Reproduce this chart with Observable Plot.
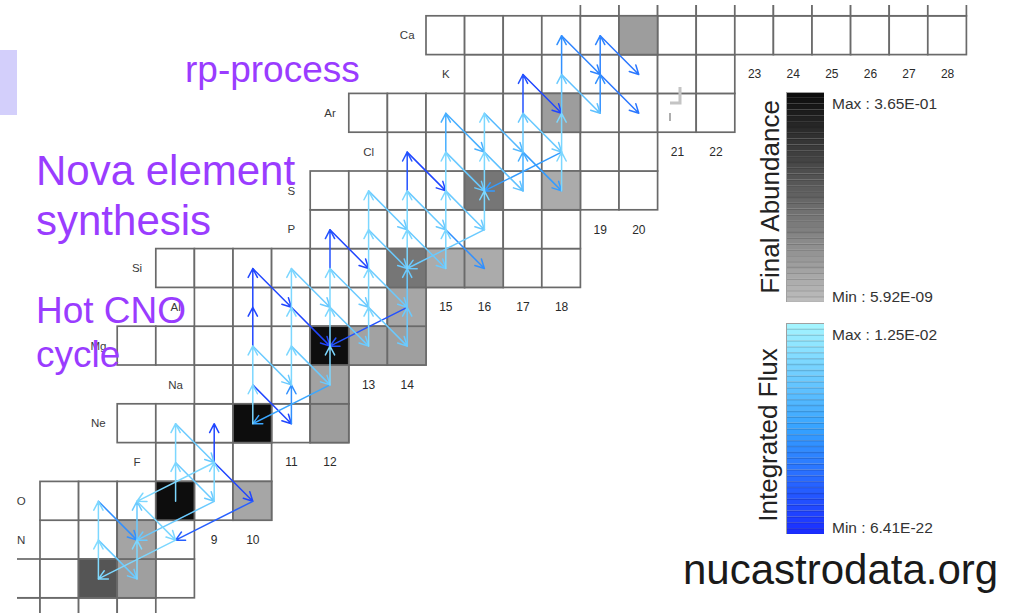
<!DOCTYPE html>
<html><head><meta charset="utf-8">
<script src="https://cdn.jsdelivr.net/npm/d3@7"></script>
<script src="https://cdn.jsdelivr.net/npm/@observablehq/plot@0.6"></script>
<style>
html,body{margin:0;padding:0;background:#fff;}
#wrap{position:relative;width:1013px;height:613px;overflow:hidden;font-family:"Liberation Sans",Arial,sans-serif;}
#wrap > *{position:absolute;left:0;top:0;}
</style></head><body><div id="wrap"></div>
<script>
// ---- chart of nuclides: rows (proton number Z) and their first/last neutron number N
const rowZ      = [5, 6, 7, 8, 9, 10, 11, 12, 13, 14, 15, 16, 17, 18, 19, 20, 21];
const rowNFirst = [3, 4, 5, 5, 8, 7,  9,  7,  9,  8,  12, 12, 14, 13, 16, 15, 19];
const rowNLast  = [7, 8, 8, 10,10,12, 12, 14, 14, 18, 18, 20, 20, 22, 22, 28, 28];

// element symbols and the column (N) where the label sits
const elementSymbol = ["O","N","F","Ne","Na","Mg","Al","Si","P","S","Cl","Ar","K","Ca"];
const elementZ      = [8, 7, 9, 10, 11, 12, 13, 14, 15, 16, 17, 18, 19, 20];
const elementLabelN = [4, 4, 7, 6,  8,  6,  8,  7,  11, 11, 13, 12, 15, 14];

// neutron-number labels and the row they sit in
const neutronLabel  = [8, 9, 10, 11, 12, 13, 14, 15, 16, 17, 18, 19, 20, 21, 22, 23, 24, 25, 26, 27, 28];
const neutronLabelZ = [5, 7, 7,  9,  9,  11, 11, 13, 13, 13, 13, 15, 15, 17, 17, 19, 19, 19, 19, 19, 19];

// final abundance (log10) of the shaded nuclides
const abundZ   = [6, 6, 7, 8, 8, 10, 10, 11, 12, 12, 12, 13, 14, 14, 14, 16, 16, 18, 20];
const abundN   = [6, 7, 7, 8, 10, 10, 12, 12, 12, 13, 14, 14, 14, 15, 16, 16, 18, 18, 20];
const abundLog = [-3.7, -6.9, -7.1, -0.55, -7.2, -0.55, -6.8, -7.0, -0.6, -7.0, -6.9, -7.2, -5.1, -7.4, -7.4, -5.1, -7.4, -6.8, -6.8];
const abundMin = 5.92e-9, abundMax = 3.65e-1;

// integrated flux (log10) per reaction; entries are [Z, N, log10 flux] of the source nucleus
const pGamma = [
  [6,6,-5],[7,6,-5.5],[6,7,-5.5],[7,7,-7],[8,8,-5.5],[9,8,-5.5],[8,9,-5.5],[9,9,-19],
  [10,10,-5.5],[11,10,-5.5],[12,10,-19],[13,10,-19],
  [10,11,-13],[11,11,-5.5],[12,11,-5.5],[13,11,-5.5],
  [11,12,-5.5],[12,12,-5.5],[13,12,-5.5],[14,12,-18],
  [12,13,-5.5],[13,13,-5.5],[14,13,-5.5],[15,13,-5.5],
  [12,14,-7],[13,14,-7],[14,14,-5.5],[15,14,-5.5],[16,14,-18],
  [14,15,-5.5],[15,15,-5.5],[16,15,-5.5],[17,15,-10],
  [15,16,-5.5],[16,16,-5.5],[17,16,-5.5],
  [16,17,-10],[17,17,-7],[18,17,-18],
  [16,18,-5.5],[17,18,-5.5],[18,18,-7],[19,18,-13],
  [18,19,-13],[19,19,-14]
];
const betaPlus = [
  [7,6,-7],[8,6,-13],[8,7,-5.5],[9,8,-7],[10,8,-7],[9,9,-19],
  [11,10,-19],[12,10,-7],[14,10,-19],[13,11,-19],[12,11,-7],[14,11,-7],
  [13,12,-7],[14,12,-7],[15,12,-19],[13,13,-7],[14,13,-7],[15,13,-7],[16,13,-7],
  [15,14,-7],[16,14,-7],[17,14,-19],[15,15,-13],[16,15,-7],[17,15,-7],[18,15,-10],
  [17,16,-8],[18,16,-9],[17,17,-12],[18,17,-7],[19,17,-19],[19,18,-8],
  [20,18,-14],[19,19,-15],[20,19,-15]
];
const pAlpha = [
  [7,8,-5.5],[8,9,-7],[8,10,-17],[9,9,-5.5],[11,12,-11],[13,14,-18],[15,16,-7],[17,18,-12]
];
const fluxMin = 6.41e-22, fluxMax = 1.25e-2;

// ---- build tables
const cells = [];
rowZ.forEach((z, i) => { for (let n = rowNFirst[i]; n <= rowNLast[i]; n++) cells.push({z, n}); });
const abund = abundZ.map((z, i) => ({z, n: abundN[i], v: abundLog[i]}));
const elements = elementSymbol.map((s, i) => ({s, z: elementZ[i], n: elementLabelN[i]}));
const nLabels = neutronLabel.map((n, i) => ({n, z: neutronLabelZ[i]}));
const arrows = [
  ...pGamma.map(([z, n, f]) => ({x1: n + .5, y1: z + .5, x2: n + .5, y2: z + 1.5, f})),
  ...betaPlus.map(([z, n, f]) => ({x1: n + .5, y1: z + .5, x2: n + 1.5, y2: z - .5, f})),
  ...pAlpha.map(([z, n, f]) => ({x1: n + .5, y1: z + .5, x2: n - 1.5, y2: z - .5, f}))
].sort((a, b) => a.f - b.f);

const aDom = [Math.log10(abundMin), Math.log10(abundMax)];
const fDom = [Math.log10(fluxMin), Math.log10(fluxMax)];
const grayScale = {type: "linear", domain: aDom, range: ["#bebebe", "#0a0a0a"]};
const blueScale = {type: "linear", domain: [fDom[0], (fDom[0] + fDom[1]) / 2, fDom[1]], range: ["#1a2bff", "#35a2ff", "#a6f6ff"]};

const frame = {width: 1013, height: 613, marginLeft: 17, marginTop: 5, marginRight: 0, marginBottom: 0,
  x: {domain: [4.40415, 30.2073], axis: null}, y: {domain: [5.60825, 21.2784], axis: null}};
const FONT = "Liberation Sans, Arial, sans-serif";

const wrap = document.getElementById("wrap");

const cellPlot = Plot.plot({...frame, style: {background: "transparent"}, color: grayScale,
  marks: [
    Plot.rect(cells, {x1: "n", x2: d => d.n + 1, y1: "z", y2: d => d.z + 1, fill: "white", stroke: "#6a6a6a", strokeWidth: 1.7, clip: true}),
    Plot.rect(abund, {x1: "n", x2: d => d.n + 1, y1: "z", y2: d => d.z + 1, fill: "v", stroke: "#6a6a6a", strokeWidth: 1.7, clip: true}),
    Plot.text(elements, {x: d => d.n + .5, y: d => d.z + .5, text: "s", fontSize: 11.5, fill: "#3a3a3a", fontFamily: FONT}),
    Plot.text(nLabels, {x: d => d.n + .5, y: d => d.z + .5, text: d => String(d.n), fontSize: 12, fill: "#2a2a2a", fontFamily: FONT})
  ]});
wrap.appendChild(cellPlot);

const arrowPlot = Plot.plot({...frame, style: {background: "transparent"}, color: blueScale,
  marks: [
    Plot.arrow(arrows, {x1: "x1", y1: "y1", x2: "x2", y2: "y2", stroke: "f", strokeWidth: 1.5, headLength: 10, headAngle: 55, clip: true})
  ]});
wrap.appendChild(arrowPlot);

// ---- colour-bar legends drawn with the same scales
function ramp(dom, scale, h) {
  const k = 36;
  const bands = d3.range(k).map(i => ({v0: dom[0] + (dom[1] - dom[0]) * i / k, v1: dom[0] + (dom[1] - dom[0]) * (i + 1) / k}));
  return Plot.plot({width: 38, height: h, margin: 0, style: {background: "transparent"},
    y: {domain: dom, axis: null}, color: scale,
    marks: [
      Plot.rect(bands, {y1: "v0", y2: "v1", fill: d => (d.v0 + d.v1) / 2}),
      Plot.ruleY(bands, {y: "v0", stroke: "#000", strokeOpacity: 0.14, strokeWidth: 1.5}),
      Plot.frame({stroke: "#a0a0a0"})
    ]});
}
const r1 = ramp(aDom, grayScale, 210); r1.style.left = "786px"; r1.style.top = "92px"; wrap.appendChild(r1);
const r2 = ramp(fDom, blueScale, 211); r2.style.left = "786px"; r2.style.top = "323px"; wrap.appendChild(r2);

// ---- annotation overlay
const ov = d3.select(wrap).append("svg").attr("width", 1013).attr("height", 613).style("font-family", FONT);
ov.append("rect").attr("x", 0).attr("y", 50).attr("width", 17).attr("height", 65).attr("fill", "#d3cffb");
ov.append("path").attr("d", "M680,87V103H670").attr("fill", "none").attr("stroke", "#c4c4c4").attr("stroke-width", 3);
ov.append("path").attr("d", "M670,113V121").attr("stroke", "#777").attr("stroke-width", 1.2);
const purple = "#9a3cff";
const notes = [
  {t: "rp-process", x: 185, y: 82, s: 37},
  {t: "Nova element", x: 36, y: 185, s: 42},
  {t: "synthesis", x: 36, y: 235, s: 42},
  {t: "Hot CNO", x: 36, y: 323, s: 37},
  {t: "cycle", x: 36, y: 367, s: 37}
];
notes.forEach(d => ov.append("text").attr("x", d.x).attr("y", d.y).attr("font-size", d.s).attr("fill", purple).text(d.t));
const legendLabels = [
  {t: "Max : 3.65E-01", y: 109}, {t: "Min : 5.92E-09", y: 302},
  {t: "Max : 1.25E-02", y: 340}, {t: "Min : 6.41E-22", y: 533}
];
legendLabels.forEach(d => ov.append("text").attr("x", 832).attr("y", d.y).attr("font-size", 15.5).attr("fill", "#333").text(d.t));
ov.append("text").attr("transform", "translate(779,197) rotate(-90)").attr("text-anchor", "middle").attr("font-size", 26).attr("fill", "#222").text("Final Abundance");
ov.append("text").attr("transform", "translate(777,435) rotate(-90)").attr("text-anchor", "middle").attr("font-size", 26).attr("fill", "#222").text("Integrated Flux");
ov.append("text").attr("x", 683).attr("y", 584).attr("font-size", 42).attr("fill", "#1a1a1a").text("nucastrodata.org");
</script></body></html>
